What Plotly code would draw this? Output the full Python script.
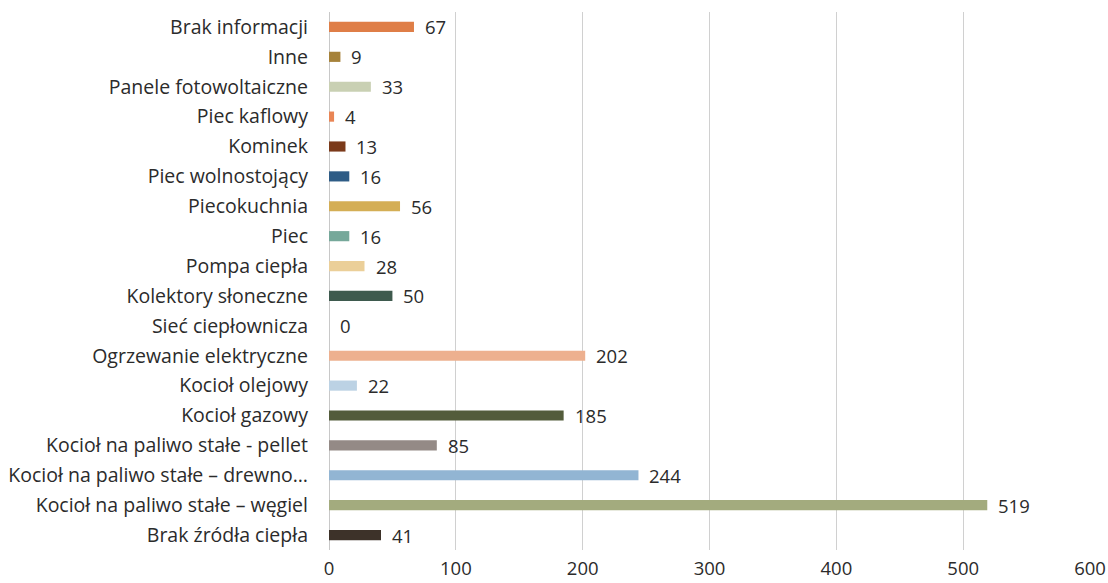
import plotly.graph_objects as go

# Categories listed bottom to top, as drawn on the y axis
categories = [
    "Brak źródła ciepła",
    "Kocioł na paliwo stałe – węgiel",
    "Kocioł na paliwo stałe – drewno…",
    "Kocioł na paliwo stałe - pellet",
    "Kocioł gazowy",
    "Kocioł olejowy",
    "Ogrzewanie elektryczne",
    "Sieć ciepłownicza",
    "Kolektory słoneczne",
    "Pompa ciepła",
    "Piec",
    "Piecokuchnia",
    "Piec wolnostojący",
    "Kominek",
    "Piec kaflowy",
    "Panele fotowoltaiczne",
    "Inne",
    "Brak informacji",
]
counts = [41, 519, 244, 85, 185, 22, 202, 0, 50, 28, 16, 56, 16, 13, 4, 33, 9, 67]
bar_colors = [
    "#3D3229", "#A3AB7E", "#92B5D3", "#948A86", "#535C3B", "#BCD2E4",
    "#EDB08F", "#9DB8C9", "#3E5A4E", "#EBCF99", "#76A89A", "#D4AE55",
    "#2E5C86", "#7B3A1A", "#E98555", "#C9D0B3", "#A6823A", "#DF7E47",
]
x_ticks = [0, 100, 200, 300, 400, 500, 600]

FONT = "'Open Sans', sans-serif"
TEXT_COLOR = "#2B2B2B"
FONT_SIZE = 19.5

fig = go.Figure(
    go.Bar(
        x=counts,
        y=categories,
        orientation="h",
        marker=dict(color=bar_colors, line=dict(width=0)),
        hoverinfo="x+y",
    )
)

# Value labels just to the right of each bar end
for cat, val in zip(categories, counts):
    fig.add_annotation(
        x=val, y=cat, text=str(val), showarrow=False,
        xanchor="left", yanchor="middle", xshift=9,
        font=dict(family=FONT, size=FONT_SIZE - 1, color=TEXT_COLOR),
    )

fig.update_layout(
    width=1108, height=583,
    margin=dict(l=329, r=18, t=12, b=33),
    paper_bgcolor="white", plot_bgcolor="white",
    bargap=0.66,
    showlegend=False,
    font=dict(family=FONT, size=FONT_SIZE, color=TEXT_COLOR),
)
fig.update_xaxes(
    range=[0, 600], tickvals=x_ticks, automargin=False,
    showgrid=True, gridcolor="#D0D0D0", gridwidth=1,
    zeroline=True, zerolinecolor="#C8C8C8", zerolinewidth=1,
    showline=False, ticks="", ticklabelstandoff=5,
    tickfont=dict(family=FONT, size=FONT_SIZE - 1, color=TEXT_COLOR),
)
fig.update_yaxes(
    categoryorder="array", categoryarray=categories, automargin=False,
    showgrid=False, showline=False, ticks="", ticklabelstandoff=20,
    tickfont=dict(family=FONT, size=FONT_SIZE, color=TEXT_COLOR),
)

fig.write_html("out.html")
